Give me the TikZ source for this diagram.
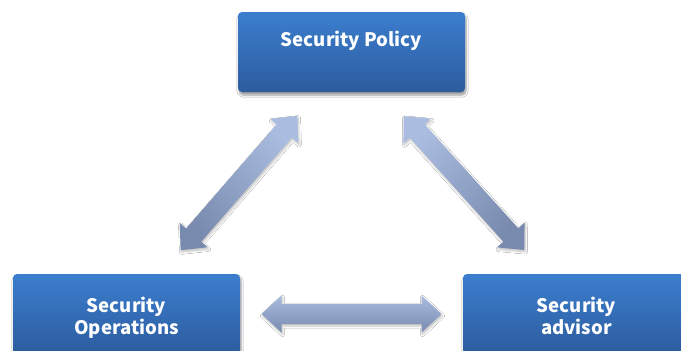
\documentclass[tikz,border=0pt]{standalone}
\usepackage{fontspec}
\setmainfont{Noto Sans CJK KR}
\usepackage{tikz}
\usetikzlibrary{positioning, calc, shadows, shadows.blur}

\definecolor{boxtop}{RGB}{60,126,206}
\definecolor{boxbot}{RGB}{44,92,158}
\definecolor{arrtop}{RGB}{170,188,224}
\definecolor{arrbot}{RGB}{120,138,174}

\tikzset{
  bluebox/.style={rectangle, rounded corners=4pt, minimum width=227pt, minimum height=80pt, inner sep=0pt,
    top color=boxtop, bottom color=boxbot,
    blur shadow={shadow xshift=1pt, shadow yshift=-3pt, shadow blur steps=6, shadow opacity=40}},
  boxtext/.style={white, font=\bfseries\fontsize{18.6}{22.5}\selectfont, align=center, inner sep=0pt},
  pics/twoway/.style args={#1/#2}{code={
    \shade[top color=arrtop, bottom color=arrbot, shading angle=#2,
      blur shadow={shadow xshift=1pt, shadow yshift=-2pt, shadow blur steps=5, shadow opacity=25}]
      (-#1,0) -- (-#1+20,-18.5) -- (-#1+20,-10) -- (#1-20,-10) -- (#1-20,-18.5) -- (#1,0)
      -- (#1-20,18.5) -- (#1-20,10) -- (-#1+20,10) -- (-#1+20,18.5) -- cycle;
  }}
}

\begin{document}
\begin{tikzpicture}[x=1pt, y=-1pt]
\fill[white] (0,0) rectangle (681,351);
\useasboundingbox (0,0) rectangle (681,351);

% the three boxes
\node[bluebox] (pol) at (351.5,52) {};
\node[bluebox] (ops) at (126.5,314) {};
\node[bluebox] (adv) at (576.5,314) {};

\node[boxtext, anchor=base] (polt) at ([yshift=-35pt]pol.north) {Security Policy};
\node[boxtext, anchor=north] (opst) at ([yshift=-23pt]ops.north) {Security\\Operations};
\node[boxtext, anchor=north] (advt) at ([yshift=-23pt]adv.north) {Security\\advisor};

% double arrows between them
\pic[rotate=49] (polops) at ($(pol.south west)!0.5!(ops.north east)$) {twoway=89/-49};
\pic[rotate=-48] (poladv) at ($(pol.south east)!0.5!(adv.north west)$) {twoway=90/48};
\pic (opsadv) at ($(ops.east)!0.5!(adv.west)$) {twoway=90/0};
\end{tikzpicture}
\end{document}
